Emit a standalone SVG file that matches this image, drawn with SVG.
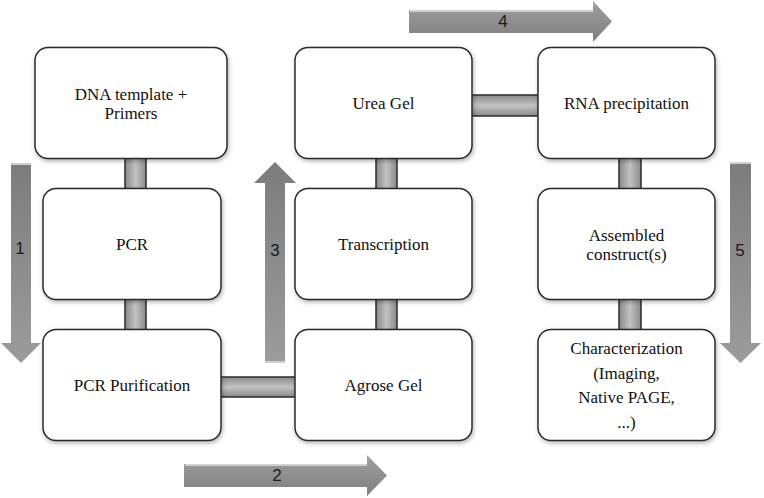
<svg xmlns="http://www.w3.org/2000/svg" width="764" height="498" viewBox="0 0 764 498">
<defs>
<linearGradient id="gv" x1="0" y1="0" x2="1" y2="0">
<stop offset="0" stop-color="#8a8a8a"/><stop offset="0.5" stop-color="#c2c2c2"/><stop offset="1" stop-color="#8a8a8a"/>
</linearGradient>
<linearGradient id="gh" x1="0" y1="0" x2="0" y2="1">
<stop offset="0" stop-color="#8a8a8a"/><stop offset="0.5" stop-color="#c2c2c2"/><stop offset="1" stop-color="#8a8a8a"/>
</linearGradient>
<linearGradient id="ah" x1="0" y1="0" x2="0" y2="1">
<stop offset="0" stop-color="#a8a8a8"/><stop offset="0.15" stop-color="#9a9a9a"/><stop offset="1" stop-color="#7f7f7f"/>
</linearGradient>
<linearGradient id="avd" x1="0" y1="0" x2="0" y2="1">
<stop offset="0" stop-color="#7c7c7c"/><stop offset="1" stop-color="#9c9c9c"/>
</linearGradient>
<linearGradient id="avu" x1="0" y1="0" x2="0" y2="1">
<stop offset="0" stop-color="#7c7c7c"/><stop offset="1" stop-color="#9c9c9c"/>
</linearGradient>
<filter id="sh" x="-10%" y="-10%" width="125%" height="130%">
<feDropShadow dx="1" dy="2" stdDeviation="2" flood-color="#000" flood-opacity="0.3"/>
</filter>
</defs>
<style>
.box{fill:#fff;stroke:#2b2b2b;stroke-width:1.5;filter:url(#sh)}
.lbl{font-family:"Liberation Serif","DejaVu Serif",serif;font-size:17px;fill:#111;text-anchor:middle}
.num{font-family:"Liberation Sans",Arial,sans-serif;font-size:17px;fill:#1a1a1a;text-anchor:middle}
.cv{fill:url(#gv);stroke:#2b2b2b;stroke-width:1.5}
.ch{fill:url(#gh);stroke:#2b2b2b;stroke-width:1.5}
.hi{stroke:#d0d0d0;stroke-width:2}
</style>
<g id="flow-arrows">
<g id="arrow1"><path d="M11,163 H31 V343 H41 L21,363 L1,343 H11 Z" fill="url(#avd)"/><line class="hi" x1="11" y1="164" x2="31" y2="164"/><text class="num" x="20" y="254">1</text></g>
<g id="arrow2"><path d="M184,464 H367 V455 L387,475.5 L367,496 V487 H184 Z" fill="url(#ah)"/><line class="hi" x1="185" y1="465" x2="367" y2="465"/><text class="num" x="277" y="481">2</text></g>
<g id="arrow3"><path d="M265,363 V183 H254 L275,162 L296,183 H285 V363 Z" fill="url(#avu)"/><line class="hi" x1="265" y1="362" x2="285" y2="362"/><text class="num" x="275" y="256">3</text></g>
<g id="arrow4"><path d="M409,10 H593 V1 L612,21.5 L593,42 V33 H409 Z" fill="url(#ah)"/><line class="hi" x1="410" y1="11" x2="593" y2="11"/><text class="num" x="503" y="27">4</text></g>
<g id="arrow5"><path d="M730,162 H751 V343 H761 L740.5,363 L720,343 H730 Z" fill="url(#avd)"/><line class="hi" x1="730" y1="163" x2="751" y2="163"/><text class="num" x="740" y="256">5</text></g>
</g>
<g id="connectors">
<rect class="cv" x="125" y="150" width="21" height="46"/>
<rect class="cv" x="125" y="292" width="21" height="45"/>
<rect class="cv" x="376" y="150" width="21" height="46"/>
<rect class="cv" x="376" y="292" width="21" height="45"/>
<rect class="cv" x="619" y="150" width="22" height="46"/>
<rect class="cv" x="619" y="292" width="22" height="45"/>
<rect class="ch" x="212" y="377" width="90" height="20"/>
<rect class="ch" x="462" y="95" width="85" height="21"/>
</g>
<g id="n-dna"><rect class="box" x="35" y="47.5" width="192" height="111" rx="13"/><text class="lbl" x="131" y="100">DNA template +</text><text class="lbl" x="131" y="119">Primers</text></g>
<g id="n-pcr"><rect class="box" x="43" y="188.5" width="178" height="111" rx="13"/><text class="lbl" x="132" y="250">PCR</text></g>
<g id="n-pcrpur"><rect class="box" x="43" y="329.5" width="178" height="111" rx="13"/><text class="lbl" x="132" y="391">PCR Purification</text></g>
<g id="n-urea"><rect class="box" x="295" y="47.5" width="177" height="111" rx="13"/><text class="lbl" x="383.5" y="109">Urea Gel</text></g>
<g id="n-trans"><rect class="box" x="295" y="188.5" width="177" height="111" rx="13"/><text class="lbl" x="383.5" y="250">Transcription</text></g>
<g id="n-agrose"><rect class="box" x="295" y="329.5" width="177" height="111" rx="13"/><text class="lbl" x="383.5" y="391">Agrose Gel</text></g>
<g id="n-rna"><rect class="box" x="538" y="47.5" width="177" height="111" rx="13"/><text class="lbl" x="626.5" y="109">RNA precipitation</text></g>
<g id="n-assembled"><rect class="box" x="538" y="188.5" width="177" height="111" rx="13"/><text class="lbl" x="626.5" y="241">Assembled</text><text class="lbl" x="626.5" y="260">construct(s)</text></g>
<g id="n-char"><rect class="box" x="538" y="329.5" width="177" height="111" rx="13"/><text class="lbl" x="626.5" y="354">Characterization</text><text class="lbl" x="626.5" y="378.5">(Imaging,</text><text class="lbl" x="626.5" y="403">Native PAGE,</text><text class="lbl" x="626.5" y="427.5">...)</text></g>
</svg>
